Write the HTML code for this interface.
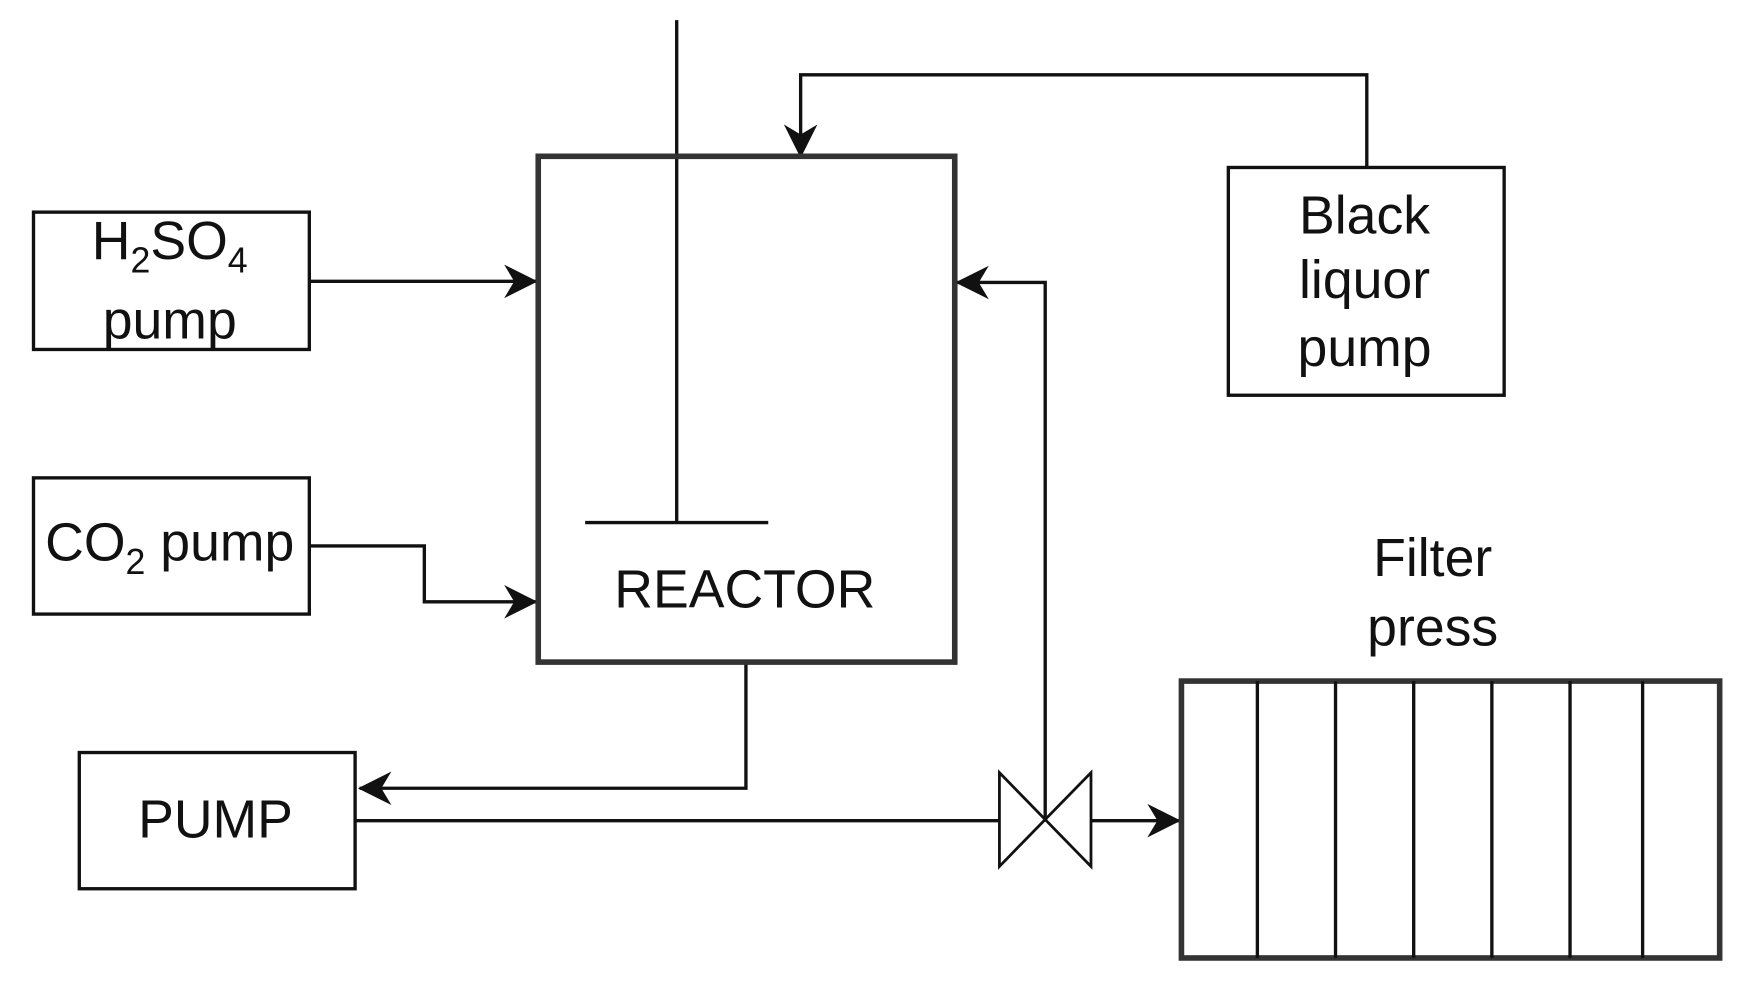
<!DOCTYPE html>
<html><head><meta charset="utf-8"><style>
html,body{margin:0;padding:0;background:#fff;}
svg{display:block;}
text{font-family:"Liberation Sans",sans-serif;fill:#111;}
</style></head><body>
<svg width="1742" height="987" viewBox="0 0 1560 884" preserveAspectRatio="none" xmlns="http://www.w3.org/2000/svg">
<defs>
<marker id="a" viewBox="0 0 20 20" refX="19" refY="10" markerWidth="30" markerHeight="30" markerUnits="userSpaceOnUse" orient="auto">
<path d="M0,0 L20,10 L0,20 L6,10 Z" fill="#111"/>
</marker>
</defs>
<g fill="none" stroke="#111" stroke-width="3">
<line x1="606" y1="18" x2="606" y2="468"/>
<line x1="524" y1="468" x2="688" y2="468"/>
<polyline points="1224,150 1224,67 717,67 717,140" marker-end="url(#a)"/>
<line x1="277" y1="252" x2="480" y2="252" marker-end="url(#a)"/>
<polyline points="277,489 380,489 380,539 480,539" marker-end="url(#a)"/>
<polyline points="668,593 668,706 322,706" marker-end="url(#a)"/>
<line x1="318" y1="735" x2="895" y2="735"/>
<polygon points="895,692 977,776 977,692 895,776" stroke-width="2.5"/>
<line x1="977" y1="735" x2="1056" y2="735" marker-end="url(#a)"/>
<polyline points="936,735 936,253 857,253" marker-end="url(#a)"/>
<rect x="30" y="190" width="247" height="123"/>
<rect x="30" y="428" width="247" height="122"/>
<rect x="71" y="674" width="247" height="122"/>
<rect x="1100" y="150" width="247" height="204"/>
</g>
<rect x="482" y="140" width="373" height="453" fill="none" stroke="#333" stroke-width="5"/>
<rect x="1058" y="610" width="482" height="248" fill="none" stroke="#333" stroke-width="5"/>
<g stroke="#111" stroke-width="3">
<line x1="1126" y1="610" x2="1126" y2="858"/>
<line x1="1196" y1="610" x2="1196" y2="858"/>
<line x1="1266" y1="610" x2="1266" y2="858"/>
<line x1="1336" y1="610" x2="1336" y2="858"/>
<line x1="1406" y1="610" x2="1406" y2="858"/>
<line x1="1471" y1="610" x2="1471" y2="858"/>
</g>
<g font-size="48" text-anchor="middle">
<text x="152" y="232">H<tspan font-size="32" dy="12">2</tspan><tspan dy="-12">SO</tspan><tspan font-size="32" dy="12">4</tspan></text>
<text x="152" y="303">pump</text>
<text x="152" y="502">CO<tspan font-size="32" dy="12">2</tspan><tspan dy="-12"> pump</tspan></text>
<text x="193" y="750">PUMP</text>
<text x="667" y="544">REACTOR</text>
<text x="1222" y="209">Black</text>
<text x="1222" y="267">liquor</text>
<text x="1222" y="328">pump</text>
<text x="1283" y="516">Filter</text>
<text x="1283" y="578">press</text>
</g>
</svg>
</body></html>
